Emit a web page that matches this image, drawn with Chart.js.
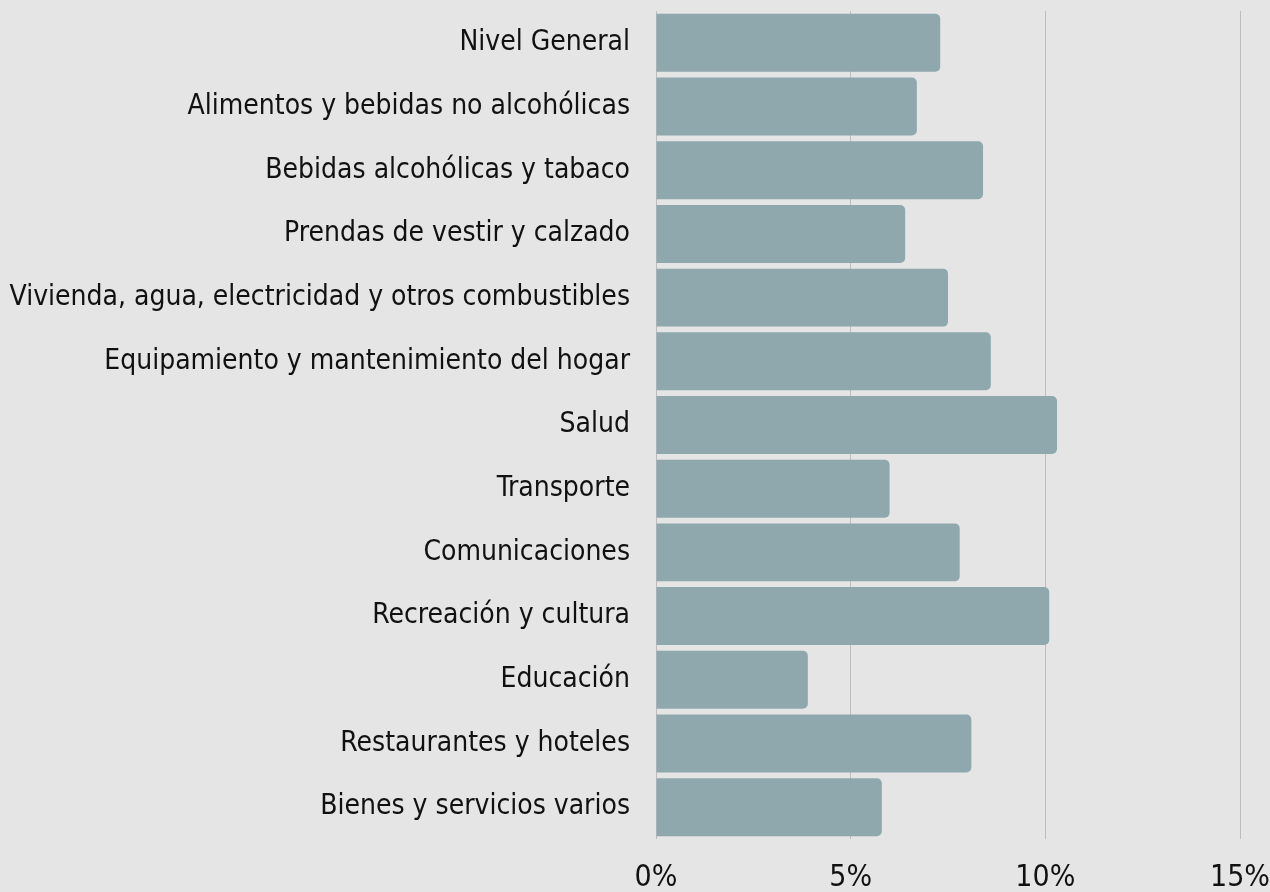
<!DOCTYPE html>
<html>
<head>
<meta charset="utf-8">
<script src="https://cdn.jsdelivr.net/npm/chart.js@4"></script>
<style>
  html, body { margin: 0; padding: 0; background: #e5e5e5; overflow: hidden; }
  #wrap { width: 1270px; height: 892px; }
</style>
</head>
<body>
<div id="wrap"><canvas id="barChart"></canvas></div>
<script>
const categories = [
  "Nivel General",
  "Alimentos y bebidas no alcohólicas",
  "Bebidas alcohólicas y tabaco",
  "Prendas de vestir y calzado",
  "Vivienda, agua, electricidad y otros combustibles",
  "Equipamiento y mantenimiento del hogar",
  "Salud",
  "Transporte",
  "Comunicaciones",
  "Recreación y cultura",
  "Educación",
  "Restaurantes y hoteles",
  "Bienes y servicios varios",
];
const values = [7.3, 6.7, 8.4, 6.4, 7.5, 8.6, 10.3, 6.0, 7.8, 10.1, 3.9, 8.1, 5.8];
const xTicks = [0, 5, 10, 15];

const fontFamily = "'DejaVu Sans Condensed', 'Liberation Sans Narrow', sans-serif";

const ctx = document.getElementById("barChart").getContext("2d");
const barChart = new Chart(ctx, {
  type: "bar",
  data: {
    labels: categories,
    datasets: [
      {
        data: values,
        backgroundColor: "#8fa8ae",
        borderRadius: 5,
        categoryPercentage: 1,
        barPercentage: 0.91,
      },
    ],
  },
  options: {
    indexAxis: "y",
    responsive: true,
    maintainAspectRatio: false,
    animation: false,
    layout: { padding: { top: 11, right: 30, bottom: 0, left: 0 } },
    plugins: {
      legend: { display: false },
      tooltip: { enabled: false },
    },
    scales: {
      x: {
        min: 0,
        max: 15,
        afterBuildTicks: (axis) => {
          axis.ticks = xTicks.map((v) => ({ value: v }));
        },
        afterFit: (axis) => {
          axis.height = 53;
          axis.paddingLeft = 0;
          axis.paddingRight = 0;
        },
        grid: { color: "#bdbdbd", lineWidth: 1, drawTicks: false },
        border: { display: false },
        ticks: {
          color: "#111",
          padding: 21,
          font: { family: fontFamily, size: 30 },
          callback: (v) => v + "%",
          maxRotation: 0,
        },
      },
      y: {
        afterFit: (axis) => {
          axis.width = 656;
          axis.paddingTop = 0;
          axis.paddingBottom = 0;
        },
        grid: { display: false },
        border: { display: false },
        ticks: {
          color: "#111",
          padding: 18,
          font: { family: fontFamily, size: 28 },
        },
      },
    },
  },
});
</script>
</body>
</html>
